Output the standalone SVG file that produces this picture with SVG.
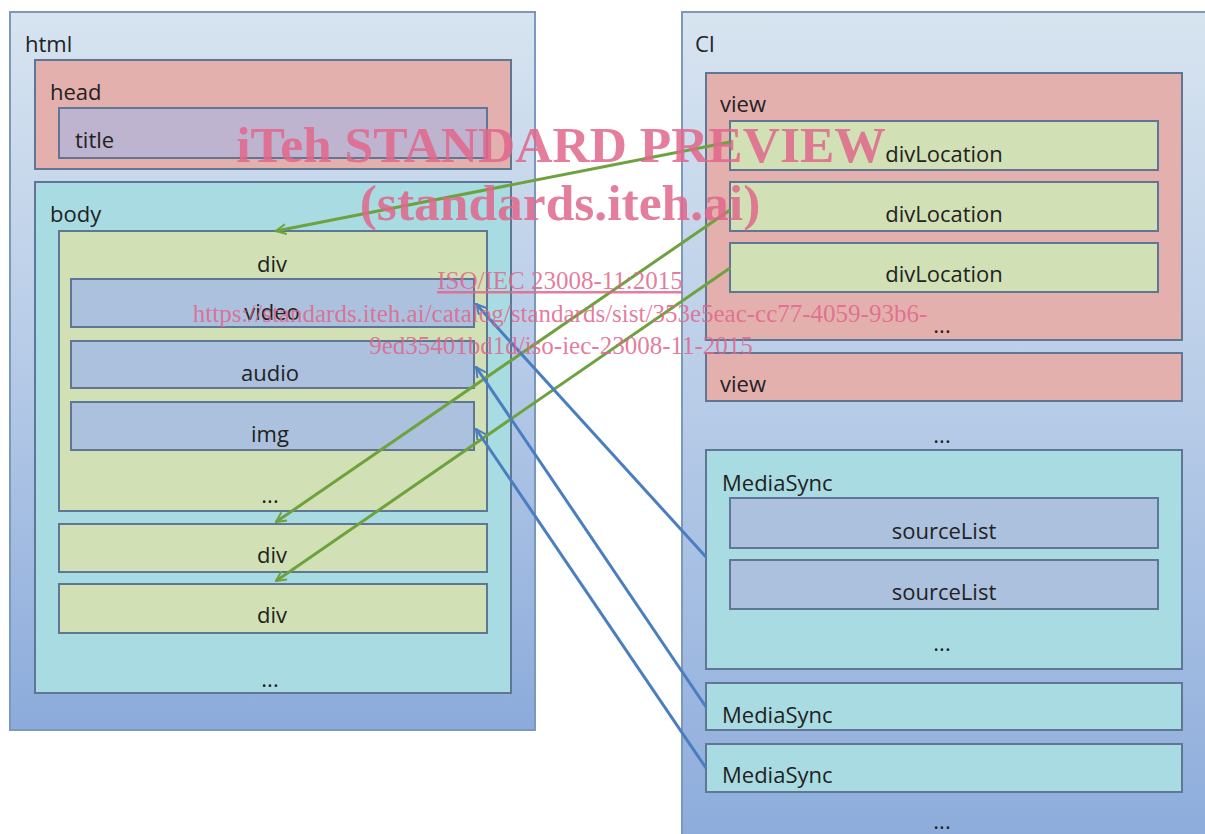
<svg xmlns="http://www.w3.org/2000/svg" width="1205" height="834" viewBox="0 0 1205 834">
<defs>
<linearGradient id="gOuter" x1="0" y1="0" x2="0" y2="1">
<stop offset="0" stop-color="#d7e4f0"/>
<stop offset="0.45" stop-color="#b9cde8"/>
<stop offset="1" stop-color="#8cabdb"/>
</linearGradient>
<marker id="ag" viewBox="0 0 12 12" refX="11" refY="6" markerWidth="12" markerHeight="12" markerUnits="userSpaceOnUse" orient="auto">
<path d="M1,1 L11,6 L1,11" fill="none" stroke="#6ea23f" stroke-width="2"/>
</marker>
<marker id="ab" viewBox="0 0 12 12" refX="11" refY="6" markerWidth="12" markerHeight="12" markerUnits="userSpaceOnUse" orient="auto">
<path d="M1,1 L11,6 L1,11" fill="none" stroke="#4a7ec0" stroke-width="2"/>
</marker>
</defs>
<style>
rect{stroke:#5f7795;stroke-width:2}
.outer{fill:url(#gOuter);stroke:#7d98bd}
.pink{fill:#e4b0ae}
.lav{fill:#bfb4cf}
.cyan{fill:#a9dce2}
.green{fill:#d1e1b5}
.blue{fill:#abc1dd}
text{font-family:"Open Sans","DejaVu Sans",sans-serif;font-size:22px;fill:#222}
.c{text-anchor:middle}
.wm{font-family:"Liberation Serif","Times New Roman",serif;fill:#e0668c;fill-opacity:0.85;text-anchor:middle}
.big{font-size:51.5px;font-weight:bold}
.sm{font-size:25px}
.gl{stroke:#6ea23f;stroke-width:3;fill:none}
.bl{stroke:#4a7ec0;stroke-width:3;fill:none}
</style>
<rect width="1205" height="834" fill="#fff" style="stroke:none"/>

<g id="html">
<rect class="outer" x="10" y="12" width="525" height="718"/>
<text x="25" y="52">html</text>
</g>
<g id="head">
<rect class="pink" x="35" y="60" width="476" height="109"/>
<text x="50" y="100">head</text>
</g>
<g id="title">
<rect class="lav" x="59" y="108" width="428" height="50"/>
<text x="75" y="148">title</text>
</g>
<g id="body">
<rect class="cyan" x="35" y="182" width="476" height="511"/>
<text x="50" y="222">body</text>
<text class="c" x="270" y="687">...</text>
</g>
<g id="div1">
<rect class="green" x="59" y="231" width="428" height="280"/>
<text class="c" x="272" y="272">div</text>
<text class="c" x="270" y="503">...</text>
</g>
<g id="video">
<rect class="blue" x="71" y="279" width="403" height="48"/>
<text class="c" x="272" y="320">video</text>
</g>
<g id="audio">
<rect class="blue" x="71" y="341" width="403" height="47"/>
<text class="c" x="270" y="381">audio</text>
</g>
<g id="img">
<rect class="blue" x="71" y="402" width="403" height="48"/>
<text class="c" x="270" y="442">img</text>
</g>
<g id="div2">
<rect class="green" x="59" y="524" width="428" height="48"/>
<text class="c" x="272" y="563">div</text>
</g>
<g id="div3">
<rect class="green" x="59" y="584" width="428" height="49"/>
<text class="c" x="272" y="623">div</text>
</g>

<g id="CI">
<rect class="outer" x="682" y="12" width="540" height="840"/>
<text x="695" y="52">CI</text>
<text class="c" x="942" y="443">...</text>
<text class="c" x="942" y="829">...</text>
</g>
<g id="view1">
<rect class="pink" x="706" y="73" width="476" height="267"/>
<text x="720" y="112">view</text>
<text class="c" x="942" y="333">...</text>
</g>
<g id="divLocation1">
<rect class="green" x="730" y="121" width="428" height="49"/>
<text class="c" x="944" y="162">divLocation</text>
</g>
<g id="divLocation2">
<rect class="green" x="730" y="182" width="428" height="49"/>
<text class="c" x="944" y="222">divLocation</text>
</g>
<g id="divLocation3">
<rect class="green" x="730" y="243" width="428" height="49"/>
<text class="c" x="944" y="282">divLocation</text>
</g>
<g id="view2">
<rect class="pink" x="706" y="353" width="476" height="48"/>
<text x="720" y="392">view</text>
</g>
<g id="MediaSync1">
<rect class="cyan" x="706" y="450" width="476" height="219"/>
<text x="722" y="491">MediaSync</text>
<text class="c" x="942" y="651">...</text>
</g>
<g id="sourceList1">
<rect class="blue" x="730" y="498" width="428" height="50"/>
<text class="c" x="944" y="539">sourceList</text>
</g>
<g id="sourceList2">
<rect class="blue" x="730" y="560" width="428" height="49"/>
<text class="c" x="944" y="600">sourceList</text>
</g>
<g id="MediaSync2">
<rect class="cyan" x="706" y="683" width="476" height="47"/>
<text x="722" y="723">MediaSync</text>
</g>
<g id="MediaSync3">
<rect class="cyan" x="706" y="744" width="476" height="48"/>
<text x="722" y="783">MediaSync</text>
</g>

<g id="connectors">
<line class="gl" x1="730" y1="142" x2="276" y2="231" marker-end="url(#ag)"/>
<line class="gl" x1="730" y1="210" x2="276" y2="522" marker-end="url(#ag)"/>
<line class="gl" x1="730" y1="268" x2="276" y2="581" marker-end="url(#ag)"/>
<line class="bl" x1="706" y1="557" x2="476" y2="304" marker-end="url(#ab)"/>
<line class="bl" x1="706" y1="707" x2="476" y2="367" marker-end="url(#ab)"/>
<line class="bl" x1="706" y1="768" x2="476" y2="429" marker-end="url(#ab)"/>
</g>

<g id="watermark">
<text class="wm big" x="561" y="162">iTeh STANDARD PREVIEW</text>
<text class="wm big" x="560" y="220">(standards.iteh.ai)</text>
<text class="wm sm" x="560" y="289" text-decoration="underline">ISO/IEC 23008-11:2015</text>
<text class="wm sm" x="560" y="322">https://standards.iteh.ai/catalog/standards/sist/353e5eac-cc77-4059-93b6-</text>
<text class="wm sm" x="561" y="354">9ed35401bd1d/iso-iec-23008-11-2015</text>
</g>
</svg>
